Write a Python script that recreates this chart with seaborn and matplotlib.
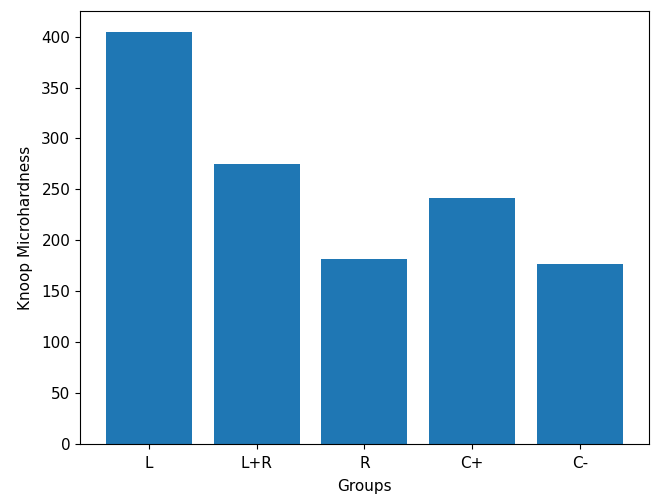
import pandas as pd
import matplotlib
matplotlib.use("Agg")
import matplotlib.pyplot as plt
import seaborn as sns

groups = ["L", "L+R", "R", "C+", "C-"]
hardness = [405, 275, 182, 242, 177]

df = pd.DataFrame({"Groups": groups, "Knoop Microhardness": hardness})

plt.rcParams["font.size"] = 11

fig = plt.figure(figsize=(6.54, 4.96), dpi=100)
ax = fig.add_axes([0.1223, 0.105, 0.8697, 0.873])
sns.barplot(data=df, x="Groups", y="Knoop Microhardness", color="#1f77b4",
            saturation=1, width=0.8, ax=ax)
# back to matplotlib's default 5% margins like plt.bar
ax.set_autoscale_on(True)
ax.margins(x=0.05, y=0.05)
ax.autoscale_view()
ax.set_ylim(bottom=0)
ax.tick_params(labelsize=11)
ax.tick_params(axis="x", pad=5)
ax.set_xlabel("Groups", fontsize=11, labelpad=6)
ax.set_ylabel("Knoop Microhardness", fontsize=11, labelpad=6)

fig.savefig("out.png", dpi=100)
